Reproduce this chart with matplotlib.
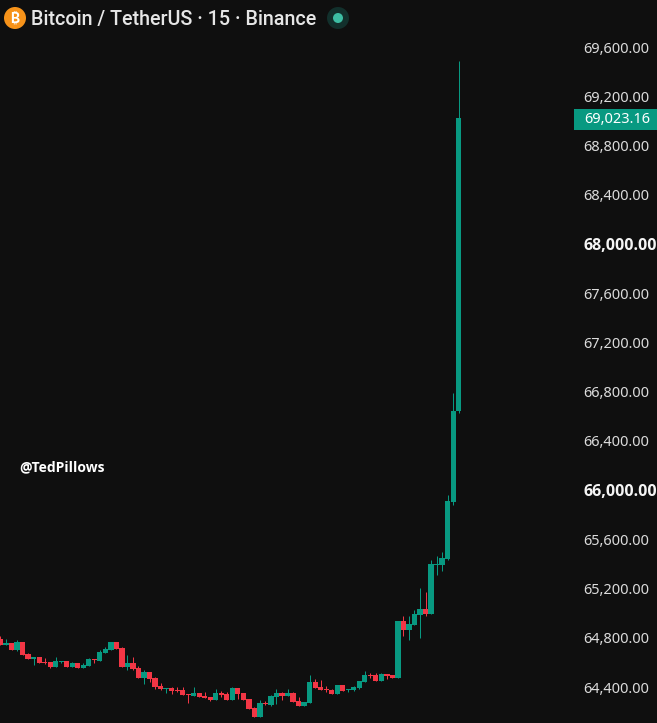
import numpy as np
import matplotlib
matplotlib.use('Agg')
import matplotlib.pyplot as plt
from matplotlib.patches import Circle, Rectangle

opens = [64790, 64741, 64757, 64700, 64765, 64668, 64627, 64643, 64603, 64603,
         64562, 64603, 64611, 64562, 64595, 64554, 64570, 64627, 64611, 64676,
         64700, 64765, 64717, 64562, 64595, 64554, 64473, 64521, 64473, 64408,
         64383, 64392, 64375, 64375, 64343, 64327, 64351, 64327, 64318, 64294,
         64351, 64343, 64294, 64392, 64351, 64302, 64229, 64156, 64270, 64253,
         64318, 64351, 64327, 64351, 64286, 64245, 64270, 64440, 64400, 64383,
         64375, 64343, 64416, 64375, 64375, 64392, 64440, 64497, 64497, 64448,
         64505, 64497, 64473, 64936, 64863, 64904, 64985, 65034, 64993, 65391,
         65391, 65440, 65903, 66642]
highs = [64814, 64790, 64757, 64782, 64765, 64676, 64643, 64643, 64635, 64603,
         64643, 64611, 64611, 64603, 64595, 64595, 64635, 64627, 64700, 64725,
         64765, 64765, 64725, 64660, 64643, 64570, 64538, 64521, 64481, 64432,
         64392, 64400, 64400, 64400, 64343, 64400, 64351, 64359, 64318, 64383,
         64367, 64359, 64400, 64392, 64351, 64302, 64237, 64294, 64286, 64335,
         64383, 64359, 64383, 64359, 64318, 64278, 64497, 64465, 64456, 64408,
         64383, 64416, 64416, 64383, 64408, 64448, 64530, 64513, 64513, 64513,
         64505, 64497, 64936, 64977, 64977, 65026, 65204, 65172, 65432, 65464,
         65497, 65960, 66789, 69486]
lows = [64741, 64741, 64700, 64692, 64660, 64627, 64578, 64595, 64587, 64554,
        64562, 64595, 64562, 64562, 64554, 64554, 64570, 64595, 64611, 64676,
        64700, 64708, 64562, 64538, 64538, 64473, 64424, 64440, 64383, 64375,
        64351, 64343, 64359, 64335, 64270, 64327, 64318, 64310, 64286, 64294,
        64318, 64294, 64294, 64302, 64294, 64221, 64156, 64156, 64253, 64245,
        64262, 64294, 64327, 64278, 64245, 64245, 64270, 64392, 64375, 64359,
        64343, 64343, 64367, 64359, 64367, 64383, 64440, 64473, 64448, 64448,
        64465, 64473, 64473, 64814, 64782, 64904, 64798, 64977, 64993, 65310,
        65343, 65432, 65879, 66626]
closes = [64741, 64757, 64700, 64765, 64660, 64627, 64643, 64595, 64595, 64562,
          64611, 64611, 64562, 64595, 64554, 64578, 64627, 64619, 64684, 64708,
          64765, 64708, 64562, 64595, 64546, 64473, 64521, 64465, 64400, 64383,
          64392, 64367, 64367, 64335, 64335, 64351, 64318, 64310, 64294, 64351,
          64335, 64294, 64392, 64343, 64294, 64221, 64156, 64270, 64262, 64327,
          64351, 64327, 64351, 64278, 64245, 64278, 64440, 64392, 64375, 64375,
          64343, 64416, 64367, 64383, 64400, 64448, 64497, 64489, 64448, 64505,
          64489, 64473, 64936, 64863, 64912, 64993, 65034, 64993, 65399, 65399,
          65448, 65911, 66642, 69023.16]

price_ticks = [64400, 64800, 65200, 65600, 66000, 66400, 66800, 67200, 67600,
               68000, 68400, 68800, 69200, 69600]
bold_ticks = [66000, 68000]
last_price = 69023.16

BG = '#0f0f0f'
UP = '#089981'
DOWN = '#f23645'
FONT = 'Noto Sans'
BOLD_FONT = 'Open Sans'

W, H = 657, 723
AX_W = 575

fig = plt.figure(figsize=(W / 100, H / 100), dpi=100, facecolor=BG)
ax = fig.add_axes([0, 0, AX_W / W, 1], facecolor=BG)

x = np.arange(len(opens))
o, h, l, c = map(np.array, (opens, highs, lows, closes))
cols = np.where(c >= o, UP, DOWN)

wicks = ax.vlines(x, l, h, colors=cols, lw=0.72, zorder=2)
wicks.set_snap(True)
ax.bar(x, np.abs(c - o), bottom=np.minimum(o, c), width=0.95, color=cols, zorder=3,
       linewidth=0, antialiased=False)

# candle pitch is about 5.52px, first one sits at the left edge
ax.set_xlim(-0.09, (AX_W - 0.5) / 5.52)
ax.set_ylim(64400 - 36 * 8.125, 64400 + 687 * 8.125)

ax.yaxis.tick_right()
ax.set_xticks([])
ax.set_yticks(price_ticks)
ax.set_yticklabels([f'{p:,.2f}' for p in price_ticks], family=FONT, fontsize=10.5, color='#dbdbdb')
ax.tick_params(axis='y', length=0, pad=6)
for lab, p in zip(ax.get_yticklabels(), price_ticks):
    if p in bold_ticks:
        lab.set_family(BOLD_FONT)
        lab.set_fontweight('bold')
        lab.set_fontsize(11.5)
        lab.set_color('#f5f5f5')
for s in ax.spines.values():
    s.set_visible(False)

# last price tag
fig.add_artist(Rectangle((574, H - 130), 83, 21, transform=None, fc=UP, ec='none'))
fig.text(617.5 / W, 1 - 119.5 / H, f'{last_price:,.2f}', family=FONT, fontsize=10.5, color='white',
         ha='center', va='center')

# header
fig.add_artist(Circle((15, H - 18), 11, transform=None, fc='#f7931a', ec='none'))
fig.text(15 / W, 1 - 18 / H, '\u20bf', family=['Inter', 'Noto Sans', 'Roboto', 'Open Sans', 'Lato', 'DejaVu Sans'],
         fontsize=10, fontweight='bold', color='white', ha='center', va='center')
fig.text(31 / W, 1 - 19 / H, 'Bitcoin / TetherUS \u00b7 15 \u00b7 Binance', family='Roboto',
         fontsize=14.2, fontweight='medium', color='#e6e6e6', ha='left', va='center')
fig.add_artist(Circle((338, H - 18), 11, transform=None, fc='#12302c', ec='none'))
fig.add_artist(Circle((338, H - 18), 5, transform=None, fc='#3dbda3', ec='none'))

fig.text(19 / W, 1 - 467 / H, '@TedPillows', family=BOLD_FONT, fontsize=10, fontweight='bold',
         color='white', ha='left', va='center')

fig.savefig('out.png', dpi=100, facecolor=BG)
